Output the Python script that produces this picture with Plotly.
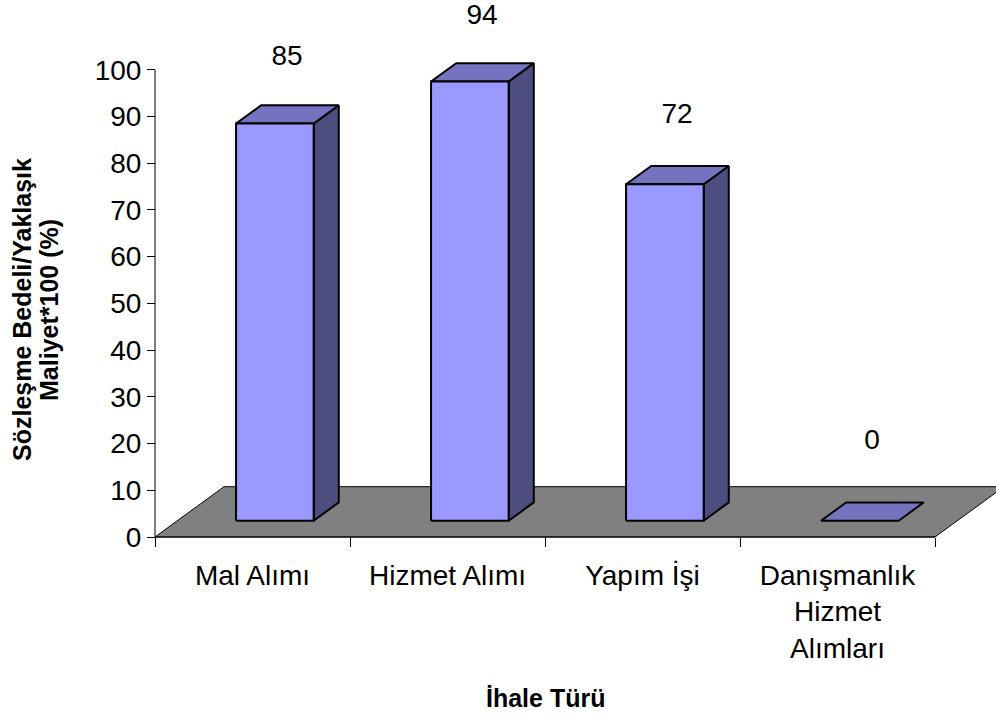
import plotly.graph_objects as go

# ---- data ----
categories = ["Mal Alımı", "Hizmet Alımı", "Yapım İşi", "Danışmanlık<br>Hizmet<br>Alımları"]
values = [85, 94, 72, 0]
y_ticks = [0, 10, 20, 30, 40, 50, 60, 70, 80, 90, 100]
y_title_lines = ["Sözleşme Bedeli/Yaklaşık", "Maliyet*100 (%)"]
x_title = "İhale Türü"

# ---- geometry (pixel scale of the reference) ----
W, H = 996, 718
L, T = 140, 0
PLOT_W = W - L
PLOT_H = 545
PXU_X = 195.0          # px per category
PXU_Y = 4.673          # px per value unit
AX_X_OFF = 15          # px from plot left edge to y axis
AX_Y_OFF = 8           # px from plot bottom to x axis

xr = [-0.5 - AX_X_OFF / PXU_X, -0.5 + (PLOT_W - AX_X_OFF) / PXU_X]
yr = [-AX_Y_OFF / PXU_Y, (PLOT_H - AX_Y_OFF) / PXU_Y]

DX = 69 / PXU_X        # depth offset of floor (x, data units)
DY = 50.3 / PXU_Y      # depth offset of floor (y, data units)
D0, D1 = 0.324, 0.688  # bar front / back depth fraction
BW = 0.398             # bar width (category units)
LABEL_SCALE = 0.967    # label placement (projection) factor
LABEL_OFF = 20.4       # label offset above the floor (value units)

C_FRONT = "#9999FF"
C_TOP = "#7373BF"
C_SIDE = "#4D4D80"
C_FLOOR = "#808080"
FONT = "Liberation Sans, Arial, sans-serif"

n = len(categories)
fig = go.Figure()

def poly(xs, ys, fill, lw=2):
    fig.add_trace(go.Scatter(
        x=list(xs) + [xs[0]], y=list(ys) + [ys[0]], mode="lines", fill="toself",
        fillcolor=fill, line=dict(color="black", width=lw), hoverinfo="skip",
        showlegend=False))

# floor
lo, hi = -0.5, n - 0.5
poly([lo, hi, hi + DX, lo + DX], [0, 0, DY, DY], C_FLOOR, lw=1)

# bars
for i, v in enumerate(values):
    fx0 = i - BW / 2 + D0 * DX
    fx1 = i + BW / 2 + D0 * DX
    fy0 = D0 * DY
    fy1 = v + D0 * DY
    ddx = (D1 - D0) * DX
    ddy = (D1 - D0) * DY
    if v > 0:
        poly([fx1, fx1 + ddx, fx1 + ddx, fx1], [fy0, fy0 + ddy, fy1 + ddy, fy1], C_SIDE)
    poly([fx0, fx1, fx1 + ddx, fx0 + ddx], [fy1, fy1, fy1 + ddy, fy1 + ddy], C_TOP)
    if v > 0:
        poly([fx0, fx1, fx1, fx0], [fy0, fy0, fy1, fy1], C_FRONT)

# axis lines
fig.add_trace(go.Scatter(x=[lo, lo], y=[0, y_ticks[-1]], mode="lines",
                         line=dict(color="black", width=1), hoverinfo="skip", showlegend=False))
fig.add_trace(go.Scatter(x=[lo, hi], y=[0, 0], mode="lines",
                         line=dict(color="black", width=1), hoverinfo="skip", showlegend=False))

# data labels
fig.add_trace(go.Scatter(
    x=[i + 0.5 * DX for i in range(n)], y=[v * LABEL_SCALE + LABEL_OFF for v in values],
    mode="text", text=[str(v) for v in values],
    textfont=dict(family=FONT, size=28, color="black"),
    textposition="middle center", cliponaxis=False, hoverinfo="skip", showlegend=False))

fig.update_layout(
    width=W, height=H,
    margin=dict(l=L, r=0, t=T, b=H - T - PLOT_H, pad=0),
    paper_bgcolor="white", plot_bgcolor="white",
    font=dict(family=FONT, color="black"),
    xaxis=dict(range=xr, tickmode="array", tickvals=list(range(n)), ticktext=categories,
               ticks="", showgrid=False, zeroline=False, showline=False,
               anchor="free", position=AX_Y_OFF / PLOT_H,
               tickfont=dict(family=FONT, size=28, color="black"),
               ticklabelstandoff=19,
               minor=dict(tickmode="array", tickvals=[k - 0.5 for k in range(n + 1)],
                          ticks="outside", ticklen=9, tickwidth=1, tickcolor="black",
                          showgrid=False)),
    yaxis=dict(range=yr, tickmode="array", tickvals=y_ticks, ticks="outside", ticklen=8,
               tickwidth=1, tickcolor="black", showgrid=False, zeroline=False, showline=False,
               anchor="free", position=AX_X_OFF / PLOT_W,
               tickfont=dict(family=FONT, size=28, color="black")),
)

# axis titles
fig.add_annotation(text="<b>%s</b>" % y_title_lines[0], xref="paper", yref="paper",
                   x=0, y=0, xshift=22 - L, yshift=PLOT_H - 310, textangle=-90,
                   showarrow=False, font=dict(family=FONT, size=25, color="black"),
                   xanchor="center", yanchor="middle")
fig.add_annotation(text="<b>%s</b>" % y_title_lines[1], xref="paper", yref="paper",
                   x=0, y=0, xshift=49 - L, yshift=PLOT_H - 310, textangle=-90,
                   showarrow=False, font=dict(family=FONT, size=25, color="black"),
                   xanchor="center", yanchor="middle")
fig.add_annotation(text="<b>%s</b>" % x_title, xref="paper", yref="paper",
                   x=(545 - L) / PLOT_W, y=0, yshift=-(698 - PLOT_H),
                   showarrow=False, font=dict(family=FONT, size=25, color="black"),
                   xanchor="center", yanchor="middle")

fig.write_html("out.html", config={"displayModeBar": False},
               post_script="document.body.style.margin='0';")
